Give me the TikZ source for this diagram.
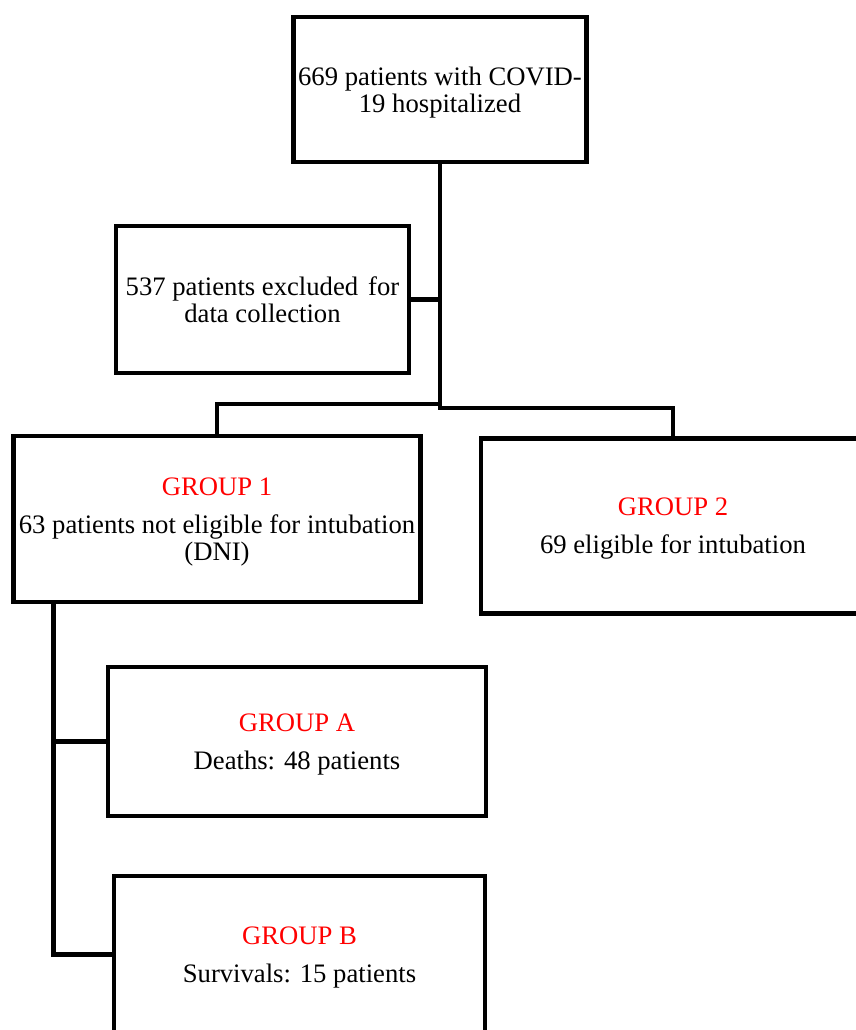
\documentclass[tikz,border=0pt]{standalone}
\usepackage{fontspec}
\setmainfont{Liberation Serif}
\usepackage{xcolor}
\usetikzlibrary{positioning,calc}

\tikzset{
    box/.style={draw, line width=2.2pt, inner sep=2pt, text depth=0pt, align=center, font=\fontsize{12}{12}\selectfont},
    link/.style={line width=2.2pt},
}
\newcommand{\grp}[1]{\textcolor{red}{#1}\\[5pt]}

\begin{document}
\begin{tikzpicture}[x=0.45pt,y=-0.45pt]

    \clip (0,0) rectangle (856,1030);

    \node[box, minimum width=131.4pt, minimum height=65.25pt] (start) at (440,89.5) {669 patients with COVID-\\19 hospitalized};
    \node[box, minimum width=131.85pt, minimum height=66.15pt] (excluded) at (262.5,299.5) {537 patients excluded\hspace{1.5pt} for\\data collection};

    \node[box, minimum width=183.15pt, minimum height=74.7pt] (group1) at (217,519) {\grp{GROUP 1}63 patients not eligible for intubation\\(DNI)};
    \node[box, minimum width=172.8pt, minimum height=78.5pt] (group2) at (673,526) {\grp{GROUP 2}69 eligible for intubation};

    \node[box, minimum width=170.1pt, minimum height=67.05pt] (groupA) at (297,741.5) {\grp{GROUP A}Deaths: 48 patients};
    \node[box, minimum width=166.95pt, minimum height=70.65pt] (groupB) at (299.5,954.5) {\grp{GROUP B}Survivals: 15 patients};

    % split below the excluded branch
    \coordinate (jL) at (440,404);
    \coordinate (jR) at (440,408);
    \draw[link] (start.south) -- (jR) -| (group2.north);
    \draw[link] (jL) -| (group1.north);
    \draw[link] (excluded.east) -- (excluded.east -| start.south);

    % spine from group 1
    \coordinate (spine) at ([xshift=19pt]group1.south west);
    \draw[link] (spine) |- (groupB.west);
    \draw[link] (groupA.west) -- (groupA.west -| spine);

\end{tikzpicture}
\end{document}
